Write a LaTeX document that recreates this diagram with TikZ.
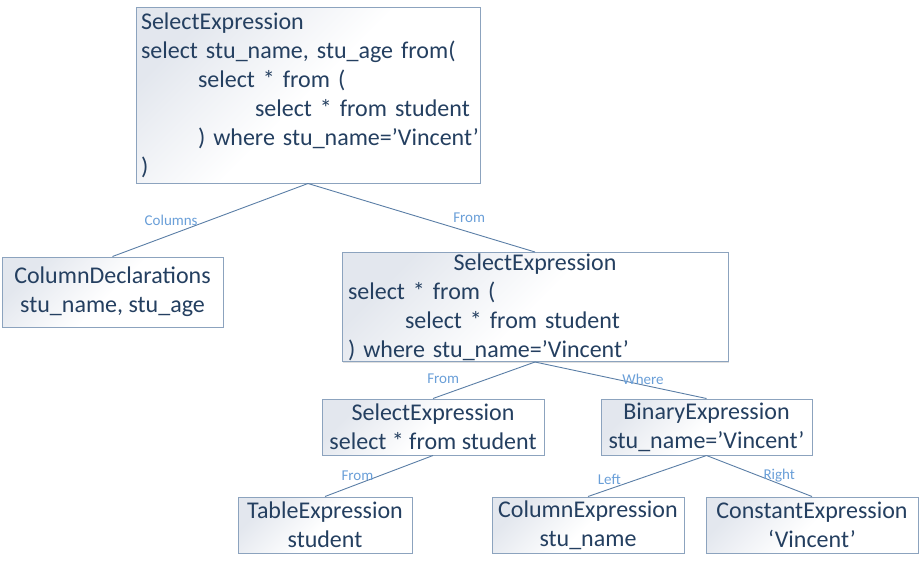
\documentclass[tikz,border=0pt]{standalone}
\usepackage{fontspec}
\setmainfont{Carlito}
\usetikzlibrary{shadows}

\definecolor{txtblue}{HTML}{243F60}
\definecolor{lineblue}{HTML}{5A7EA6}
\definecolor{boxedge}{HTML}{8CA3BE}
\definecolor{boxshade}{HTML}{E3E7EE}
\definecolor{lblblue}{HTML}{6A9FD8}

\begin{document}
\begin{tikzpicture}[x=1pt, y=-1pt,
    box/.style={draw=boxedge, line width=1pt, top color=boxshade, bottom color=white,
        middle color=white, shading angle=45, text=txtblue, inner sep=0pt,
        drop shadow={shadow xshift=1pt, shadow yshift=-1pt, opacity=0.25},
        font=\fontsize{24}{29}\selectfont, align=center},
    edge/.style={draw=lineblue, line width=0.9pt},
    lbl/.style={text=lblblue, inner sep=0pt, font=\fontsize{15}{18}\selectfont}]
    \useasboundingbox (0,0) rectangle (921,565);

    % Root query
    \node[box, minimum width=344pt, minimum height=176pt, text width=334pt, align=left] (root) at (308,95)
        {\mbox{SelectExpression}\\
         \mbox{select stu\_name, stu\_age from(}\\
         \mbox{\hspace*{57pt}select * from (}\\
         \mbox{\hspace*{114pt}select * from student}\\
         \mbox{\hspace*{57pt}) where stu\_name=’Vincent’}\\
         )};

    % Second level
    \node[box, minimum width=221pt, minimum height=70pt] (coldecl) at (112.5,292)
        {ColumnDeclarations\\stu\_name, stu\_age};
    \node[box, minimum width=386pt, minimum height=109pt, text width=374pt, align=left] (subsel) at (535,307)
        {\makebox[\hsize]{SelectExpression}\\
         \mbox{select * from (}\\
         \mbox{\hspace*{57pt}select * from student}\\
         \mbox{) where stu\_name=’Vincent’}};

    % Third level
    \node[box, minimum width=222pt, minimum height=56pt] (innersel) at (433,427)
        {SelectExpression\\select * from student};
    \node[box, minimum width=211pt, minimum height=56pt] (binexpr) at (706.5,427)
        {BinaryExpression\\stu\_name=’Vincent’};

    % Leaves
    \node[box, minimum width=174pt, minimum height=56pt] (tabexpr) at (325,525)
        {TableExpression\\student};
    \node[box, minimum width=192pt, minimum height=56pt] (colexpr) at (588,525)
        {ColumnExpression\\stu\_name};
    \node[box, minimum width=212pt, minimum height=56pt] (constexpr) at (812,525)
        {ConstantExpression\\‘Vincent’};

    % Connectors with their labels
    \draw[edge] (root.south) -- (coldecl.north) node[lbl, pos=0.70, yshift=14pt] {Columns};
    \draw[edge] (root.south) -- (subsel.north) node[lbl, pos=0.71, yshift=14pt] {From};
    \draw[edge] (subsel.south) -- (innersel.north) node[lbl, pos=0.90, yshift=16pt] {From};
    \draw[edge] (subsel.south) -- (binexpr.north) node[lbl, pos=0.63, yshift=6pt] {Where};
    \draw[edge] (innersel.south) -- (tabexpr.north) node[lbl, pos=0.70, yshift=8pt] {From};
    \draw[edge] (binexpr.south) -- (colexpr.north) node[lbl, pos=0.82, yshift=10pt] {Left};
    \draw[edge] (binexpr.south) -- (constexpr.north) node[lbl, pos=0.69, yshift=8pt] {Right};
\end{tikzpicture}
\end{document}
